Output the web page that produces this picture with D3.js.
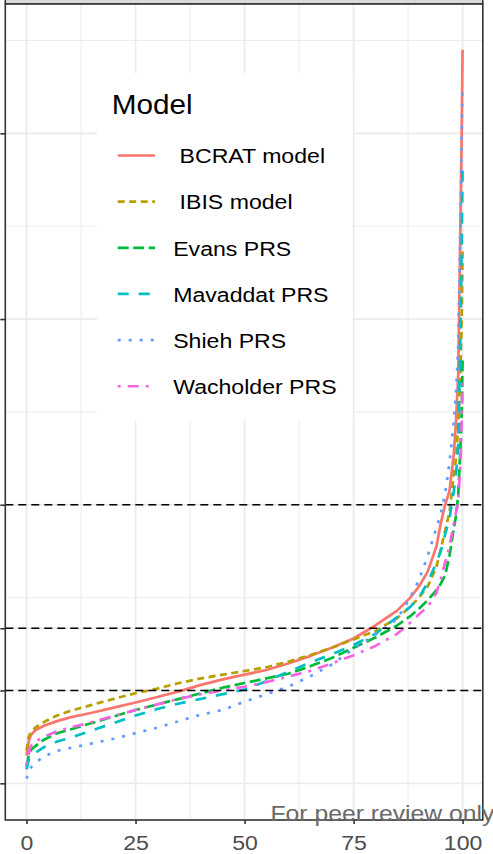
<!DOCTYPE html>
<html>
<head>
<meta charset="utf-8">
<script src="https://cdn.jsdelivr.net/npm/d3@7"></script>
<style>
  html, body { margin: 0; padding: 0; background: #fff; }
  svg { display: block; font-family: "Liberation Sans", Arial, Helvetica, sans-serif; }
</style>
</head>
<body>
<svg id="chart" width="493" height="854"></svg>
<script>
// Percentile of women (x) and the model's predicted risk (y), one array per model
const percentiles = [0, 0.5, 1, 2, 4, 7, 10, 15, 20, 25, 30, 35, 40, 45, 50, 55, 60, 65, 70, 75,
                     80, 85, 88, 90, 92, 94, 95, 96, 97, 98, 98.5, 99, 99.5, 99.8, 100];
const bcrat     = [0.30, 0.45, 0.52, 0.57, 0.62, 0.67, 0.71, 0.76, 0.815, 0.87, 0.93, 0.99, 1.06, 1.12, 1.17, 1.22, 1.29, 1.37, 1.46, 1.56,
                   1.70, 1.86, 2.00, 2.12, 2.28, 2.55, 2.80, 3.00, 3.15, 3.55, 3.90, 4.40, 6.00, 7.00, 7.90];
const ibis      = [0.35, 0.50, 0.55, 0.60, 0.66, 0.73, 0.78, 0.845, 0.91, 0.97, 1.02, 1.08, 1.13, 1.17, 1.21, 1.25, 1.31, 1.38, 1.46, 1.55,
                   1.64, 1.78, 1.90, 2.00, 2.12, 2.33, 2.52, 2.72, 2.92, 3.33, 3.50, 3.85, 4.45, 5.00, 5.74];
const evans     = [0.18, 0.30, 0.36, 0.40, 0.47, 0.54, 0.58, 0.65, 0.72, 0.79, 0.85, 0.91, 0.97, 1.03, 1.08, 1.13, 1.18, 1.26, 1.35, 1.46,
                   1.57, 1.70, 1.80, 1.88, 1.97, 2.08, 2.15, 2.24, 2.45, 2.75, 2.88, 3.10, 3.60, 4.00, 4.56];
const mavaddat  = [0.15, 0.25, 0.30, 0.33, 0.39, 0.45, 0.49, 0.57, 0.65, 0.73, 0.80, 0.86, 0.91, 0.96, 1.01, 1.10, 1.20, 1.30, 1.39, 1.49,
                   1.61, 1.79, 1.90, 2.00, 2.16, 2.38, 2.50, 2.68, 2.85, 3.15, 3.33, 3.65, 4.85, 5.80, 6.64];
const shieh     = [0.05, 0.12, 0.17, 0.22, 0.29, 0.35, 0.38, 0.43, 0.48, 0.54, 0.60, 0.67, 0.74, 0.79, 0.88, 0.96, 1.04, 1.15, 1.28, 1.45,
                   1.60, 1.77, 2.00, 2.19, 2.45, 2.75, 2.90, 3.12, 3.45, 3.90, 4.20, 4.70, 6.00, 7.00, 7.52];
const wacholder = [0.20, 0.32, 0.40, 0.45, 0.50, 0.56, 0.60, 0.66, 0.725, 0.79, 0.85, 0.91, 0.96, 1.00, 1.04, 1.09, 1.15, 1.21, 1.29, 1.38,
                   1.48, 1.61, 1.73, 1.82, 1.90, 2.05, 2.20, 2.38, 2.55, 2.80, 2.92, 3.02, 3.45, 3.90, 4.31];

const seriesNames  = [" BCRAT model", " IBIS model", "Evans PRS", "Mavaddat PRS", "Shieh PRS", "Wacholder PRS"];
const seriesValues = [bcrat, ibis, evans, mavaddat, shieh, wacholder];
const seriesColors = ["#F8766D", "#B79F00", "#00BA38", "#00BFC4", "#619CFF", "#F564E3"];
const seriesDashes = [null, "7,4.5", "11,4.5", "11,10", "3,8", "3,7,11,7"];

const legendTitle = "Model";
const xTickValues = [0, 25, 50, 75, 100];
const xMinorValues = [12.5, 37.5, 62.5, 87.5];
const yTickValues = [0, 1, 1.67, 3, 5, 7];
const yMinorValues = [2, 4, 6, 8];
const thresholdValues = [1, 1.67, 3];
const watermark = "For peer review only";

// ---- layout ----
const W = 493, H = 854;
const panel = { left: 5.3, right: 482.8, top: 4, bottom: 820 };
const textStretch = 1.1;

const svg = d3.select("#chart");
svg.append("rect").attr("width", W).attr("height", H).attr("fill", "#fff");

const x = d3.scaleLinear().domain([-4.87, 104.64]).range([panel.left, panel.right]);
const y = d3.scaleLinear().domain([-0.395, 8.393]).range([panel.bottom, panel.top]);

// facet strip peeking above the panel
svg.append("rect")
  .attr("x", panel.left).attr("y", -30)
  .attr("width", panel.right - panel.left).attr("height", 30 + panel.top)
  .attr("fill", "#d9d9d9").attr("stroke", "#333").attr("stroke-width", 1.5);

// panel background
svg.append("rect")
  .attr("x", panel.left).attr("y", panel.top)
  .attr("width", panel.right - panel.left).attr("height", panel.bottom - panel.top)
  .attr("fill", "#fff");

const grid = svg.append("g").attr("stroke", "#ebebeb").attr("fill", "none");
grid.selectAll(".xminor").data(xMinorValues).join("line")
  .attr("x1", d => x(d)).attr("x2", d => x(d))
  .attr("y1", panel.top).attr("y2", panel.bottom).attr("stroke-width", 1);
grid.selectAll(".yminor").data(yMinorValues).join("line")
  .attr("y1", d => y(d)).attr("y2", d => y(d))
  .attr("x1", panel.left).attr("x2", panel.right).attr("stroke-width", 1);
grid.selectAll(".xmajor").data(xTickValues).join("line")
  .attr("x1", d => x(d)).attr("x2", d => x(d))
  .attr("y1", panel.top).attr("y2", panel.bottom).attr("stroke-width", 1.8);
grid.selectAll(".ymajor").data(yTickValues).join("line")
  .attr("y1", d => y(d)).attr("y2", d => y(d))
  .attr("x1", panel.left).attr("x2", panel.right).attr("stroke-width", 1.8);

// model curves
const line = d3.line().x(d => x(d[0])).y(d => y(d[1]));
const curves = svg.append("g").attr("fill", "none");
seriesValues.forEach((vals, i) => {
  const pts = percentiles.map((p, k) => [p, vals[k]]);
  curves.append("path")
    .attr("d", line(pts))
    .attr("stroke", seriesColors[i])
    .attr("stroke-width", 2.7)
    .attr("stroke-linejoin", "round")
    .attr("stroke-dasharray", seriesDashes[i]);
});

// threshold reference lines
svg.append("g").selectAll("line").data(thresholdValues).join("line")
  .attr("x1", panel.left).attr("x2", panel.right)
  .attr("y1", d => y(d)).attr("y2", d => y(d))
  .attr("stroke", "#000").attr("stroke-width", 1.4).attr("stroke-dasharray", "8,5");

// legend
const leg = svg.append("g");
leg.append("rect").attr("x", 97).attr("y", 73).attr("width", 255.5).attr("height", 348).attr("fill", "#fff");
leg.append("text")
  .attr("transform", `translate(111.8,114) scale(${textStretch},1)`)
  .attr("font-size", 27).attr("fill", "#000").text(legendTitle);
seriesNames.forEach((name, i) => {
  const base = 163.3 + i * 46.15;
  leg.append("line")
    .attr("x1", 117.7).attr("x2", 155)
    .attr("y1", base - 7.8).attr("y2", base - 7.8)
    .attr("stroke", seriesColors[i]).attr("stroke-width", 2.7)
    .attr("stroke-dasharray", seriesDashes[i]);
  leg.append("text")
    .attr("transform", `translate(173.2,${base}) scale(${textStretch},1)`)
    .attr("font-size", 21).attr("fill", "#000")
    .style("white-space", "pre")
    .text(name);
});

// panel border
svg.append("rect")
  .attr("x", panel.left).attr("y", panel.top)
  .attr("width", panel.right - panel.left).attr("height", panel.bottom - panel.top)
  .attr("fill", "none").attr("stroke", "#333").attr("stroke-width", 1.6);

// axes
const xAxis = svg.append("g").attr("transform", `translate(0,${panel.bottom})`)
  .call(d3.axisBottom(x).tickValues(xTickValues).tickSize(4).tickFormat(d3.format("d")));
xAxis.select(".domain").remove();
xAxis.selectAll(".tick line").attr("stroke", "#333").attr("stroke-width", 1.6);
xAxis.selectAll(".tick text")
  .attr("y", 0).attr("dy", null)
  .attr("transform", `translate(0,29.5) scale(${textStretch},1)`)
  .attr("font-size", 21).attr("fill", "#4d4d4d")
  .attr("font-family", "'Liberation Sans', Arial, Helvetica, sans-serif");

const yAxis = svg.append("g").attr("transform", `translate(${panel.left},0)`)
  .call(d3.axisLeft(y).tickValues(yTickValues).tickSize(5).tickFormat(""));
yAxis.select(".domain").remove();
yAxis.selectAll(".tick line").attr("stroke", "#333").attr("stroke-width", 1.6);

// watermark stamped over the figure
svg.append("text")
  .attr("transform", "translate(270.5,821) scale(1.075,1)")
  .attr("font-size", 23).attr("fill", "#6a6a6a")
  .text(watermark);
</script>
</body>
</html>
